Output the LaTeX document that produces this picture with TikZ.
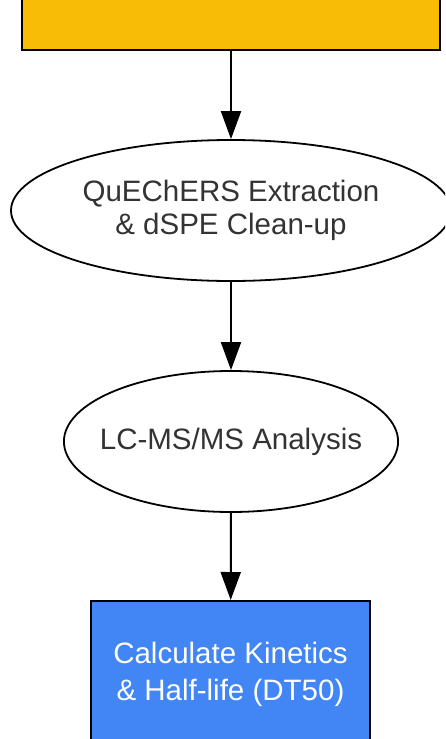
\documentclass[tikz,border=0pt]{standalone}
\usepackage{fontspec}
\setmainfont{Liberation Sans}
\usetikzlibrary{shapes.geometric,arrows.meta}
\definecolor{stepyellow}{HTML}{F9BC06}
\definecolor{stepblue}{HTML}{4285F4}
\definecolor{steptext}{HTML}{333333}
\begin{document}
\begin{tikzpicture}[x=1pt, y=-1pt,
		flowbox/.style={rectangle, draw=black, line width=2pt, inner sep=0pt},
		flowoval/.style={ellipse, draw=black, line width=1.8pt, fill=white, inner sep=0pt, text=steptext, align=center, font=\fontsize{29.5}{33}\selectfont},
		flowarrow/.style={-{Triangle[length=28pt, width=20pt]}, line width=2pt}]
		
		\useasboundingbox (0,0) rectangle (445,739);
		\clip (0,0) rectangle (445,739);
		
		% Steps
		\node[flowbox, fill=stepyellow, minimum width=418pt, minimum height=110pt] (prep) at (231, -5) {};
		\node[flowoval, minimum width=440pt, minimum height=141pt] (extract) at (231, 210.5) {QuEChERS Extraction\\\& dSPE Clean-up};
		\node[flowoval, inner xsep=-13pt, minimum width=330pt, minimum height=141pt] (lcms) at (231, 441.5) {LC-MS/MS Analysis};
		\node[flowbox, fill=stepblue, minimum width=279pt, minimum height=200pt] (kinetics) at (230.5, 701) {};
		\node[text=white, align=center, font=\fontsize{29.5}{37}\selectfont] (kinlabel) at (230.5, 674) {Calculate Kinetics\\\& Half-life (DT50)};
		% Connect
		\draw[flowarrow] (prep) -- (extract);
		\draw[flowarrow] (extract) -- (lcms);
		\draw[flowarrow] (lcms) -- (kinetics);
		
	\end{tikzpicture}
\end{document}
